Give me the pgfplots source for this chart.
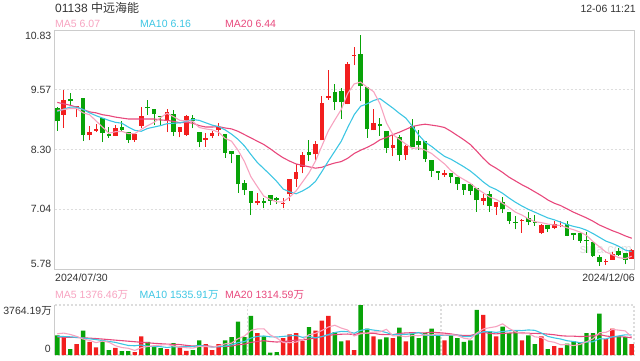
\documentclass[border=0pt]{standalone}
\usepackage{pgfplots}
\usepackage{pgfplotstable}
\pgfplotsset{compat=1.18}
\usepackage{fontspec}
\setmainfont{Liberation Sans}
\newfontfamily\cjk{Noto Sans CJK SC}
\definecolor{cred}{HTML}{F21E1E}
\definecolor{cgreen}{HTML}{08A308}
\definecolor{mafive}{HTML}{F7A3C0}
\definecolor{maten}{HTML}{3DC6E3}
\definecolor{matwenty}{HTML}{E8487C}
\definecolor{framec}{HTML}{CCCCCC}
\definecolor{gridc}{HTML}{DDDDDD}
\definecolor{txt}{HTML}{333333}
\newcommand{\fs}{\fontsize{10.5}{12}\selectfont}

% price candles: x open high low close
\pgfplotstableread{
x o h l c
2 9.04 9.57 8.76 9.36
4 9.20 9.23 8.99 9.22
6 8.61 8.80 8.50 8.68
7 8.70 8.84 8.67 8.73
10 8.59 8.83 8.59 8.76
13 8.51 8.66 8.47 8.64
14 8.80 9.20 8.75 9.02
18 8.90 9.17 8.67 9.10
20 8.67 8.79 8.56 8.79
21 8.62 9.04 8.60 9.02
24 8.51 8.66 8.36 8.54
25 8.59 8.69 8.54 8.66
26 8.71 8.87 8.59 8.78
32 7.17 7.38 7.13 7.21
36 7.16 7.27 7.06 7.18
37 7.36 7.69 7.22 7.68
38 7.68 8.00 7.52 7.82
39 7.93 8.25 7.80 8.18
41 8.20 8.48 8.06 8.43
42 8.50 9.44 8.50 9.29
43 9.40 9.99 9.36 9.43
46 9.26 10.16 9.26 10.11
47 10.28 10.47 10.09 10.31
50 8.71 9.17 8.71 8.87
53 8.33 8.65 8.16 8.39
55 8.18 8.41 8.09 8.37
61 7.76 7.87 7.73 7.80
67 7.22 7.36 7.13 7.27
69 7.09 7.20 6.92 7.20
73 6.80 6.83 6.55 6.82
76 6.54 6.73 6.52 6.70
78 6.65 6.80 6.62 6.73
79 6.69 6.80 6.66 6.72
86 5.93 5.99 5.87 5.95
87 5.98 6.14 5.98 6.09
90 6.00 6.21 5.99 6.18
}\redc

\pgfplotstableread{
x o h l c
1 9.18 9.20 8.70 8.90
3 9.38 9.50 9.25 9.32
5 9.39 9.39 8.48 8.61
8 8.97 8.97 8.46 8.65
9 8.63 8.78 8.55 8.58
11 8.79 8.91 8.67 8.71
12 8.68 8.68 8.44 8.51
15 9.20 9.36 9.04 9.18
16 9.17 9.17 8.83 9.05
17 9.02 9.02 8.80 8.99
19 9.05 9.13 8.59 8.67
22 8.97 9.04 8.75 8.90
23 8.68 8.68 8.35 8.46
27 8.64 8.64 8.13 8.24
28 8.28 8.28 8.01 8.20
29 8.18 8.18 7.39 7.57
30 7.59 7.66 7.34 7.44
31 7.42 7.42 6.92 7.18
33 7.21 7.29 7.06 7.18
34 7.34 7.34 7.13 7.22
35 7.27 7.31 7.15 7.23
40 8.26 8.50 8.06 8.18
44 9.52 9.69 9.13 9.31
45 9.55 9.60 8.96 9.30
48 10.32 10.72 9.32 9.64
49 9.62 9.62 8.55 8.73
51 8.84 8.97 8.59 8.80
52 8.70 8.70 8.23 8.33
54 8.56 8.61 8.06 8.19
56 8.80 8.96 8.35 8.35
57 8.49 8.72 8.30 8.41
58 8.49 8.49 8.04 8.11
59 8.09 8.09 7.73 7.85
60 7.85 7.85 7.66 7.81
62 7.80 7.80 7.59 7.72
63 7.73 7.73 7.45 7.57
64 7.57 7.57 7.35 7.45
65 7.57 7.57 7.34 7.43
66 7.50 7.50 6.99 7.23
68 7.36 7.43 6.99 7.11
70 7.20 7.31 6.96 7.04
71 6.99 6.99 6.73 6.80
72 6.78 6.90 6.62 6.76
74 6.85 6.98 6.70 6.77
75 6.78 6.93 6.69 6.75
77 6.70 6.70 6.56 6.62
80 6.74 6.80 6.47 6.48
81 6.55 6.55 6.40 6.49
82 6.55 6.55 6.33 6.38
83 6.40 6.57 6.12 6.38
84 6.36 6.36 6.04 6.06
85 6.04 6.08 5.85 5.93
88 6.16 6.22 6.05 6.08
89 6.11 6.11 5.88 5.97
}\greenc

% price moving averages: x ma5 ma10 ma20
\pgfplotstableread{
x a b d
1 9.13 9.11 9.30
2 9.15 9.16 9.27
3 9.17 9.20 9.24
4 9.17 9.20 9.20
5 9.08 9.15 9.15
6 9.04 9.08 9.10
7 8.91 9.02 9.08
8 8.78 8.97 9.04
9 8.65 8.92 9.02
10 8.68 8.88 8.99
11 8.69 8.86 8.97
12 8.64 8.78 8.95
13 8.64 8.71 8.95
14 8.73 8.69 8.95
15 8.81 8.75 8.95
16 8.88 8.78 8.95
17 8.98 8.81 8.93
18 9.07 8.85 8.92
19 9.00 8.86 8.90
20 8.92 8.87 8.87
21 8.91 8.90 8.88
22 8.90 8.94 8.86
23 8.77 8.92 8.81
24 8.74 8.87 8.78
25 8.72 8.82 8.78
26 8.67 8.79 8.79
27 8.54 8.72 8.76
28 8.48 8.63 8.74
29 8.29 8.52 8.69
30 8.05 8.38 8.62
31 7.73 8.20 8.55
32 7.52 8.03 8.48
33 7.32 7.90 8.41
34 7.25 7.77 8.32
35 7.20 7.63 8.22
36 7.20 7.47 8.13
37 7.30 7.41 8.06
38 7.43 7.37 8.00
39 7.62 7.43 7.97
40 7.81 7.51 7.94
41 8.06 7.63 7.91
42 8.38 7.84 7.93
43 8.70 8.06 7.98
44 8.93 8.27 8.02
45 9.15 8.48 8.05
46 9.49 8.77 8.12
47 9.69 9.04 8.22
48 9.73 9.22 8.29
49 9.62 9.27 8.35
50 9.53 9.34 8.42
51 9.27 9.38 8.51
52 8.87 9.28 8.56
53 8.62 9.18 8.62
54 8.52 9.07 8.67
55 8.42 8.97 8.73
56 8.33 8.80 8.79
57 8.34 8.61 8.82
58 8.29 8.46 8.84
59 8.22 8.37 8.82
60 8.11 8.26 8.80
61 8.00 8.16 8.77
62 7.86 8.10 8.69
63 7.75 8.02 8.60
64 7.67 7.94 8.51
65 7.59 7.85 8.41
66 7.48 7.74 8.27
67 7.39 7.62 8.12
68 7.30 7.52 7.99
69 7.25 7.46 7.91
70 7.17 7.38 7.82
71 7.08 7.28 7.72
72 6.98 7.19 7.64
73 6.92 7.11 7.56
74 6.84 7.04 7.49
75 6.78 6.98 7.41
76 6.76 6.92 7.33
77 6.73 6.86 7.24
78 6.71 6.82 7.17
79 6.70 6.77 7.12
80 6.65 6.72 7.05
81 6.61 6.68 6.98
82 6.56 6.65 6.92
83 6.49 6.60 6.86
84 6.36 6.53 6.79
85 6.25 6.45 6.71
86 6.14 6.37 6.65
87 6.08 6.32 6.59
88 6.02 6.26 6.54
89 6.00 6.18 6.48
90 6.05 6.15 6.43
}\pma

% volume (10k shares)
\pgfplotstableread{
x v
2 1427
4 812
6 984
7 566
10 541
13 221
14 1402
18 443
20 566
21 320
24 812
25 369
26 812
32 1648
36 1279
37 1550
38 1648
39 1058
41 1845
42 2583
43 2952
46 1107
47 369
50 1402
53 1279
55 1033
61 1107
67 3026
69 1402
73 1107
76 1402
78 664
79 541
86 1205
87 1993
90 812
}\redv

\pgfplotstableread{
x v
1 1476
3 443
5 1845
8 1033
9 369
11 295
12 295
15 984
16 615
17 517
19 886
22 369
23 1107
27 1107
28 1353
29 2509
30 1353
31 2952
33 1402
34 172
35 221
40 2091
44 1722
45 1033
48 3764
49 1993
51 1181
52 1328
54 2067
56 1599
57 1279
58 1648
59 1993
60 1476
62 1476
63 1279
64 984
65 1107
66 3395
68 1771
70 2140
71 1648
72 1796
74 1476
75 812
77 443
80 861
81 1033
82 910
83 1648
84 1648
85 3124
88 1402
89 1353
}\greenv

% volume moving averages: x ma5 ma10 ma20
\pgfplotstableread{
x a b d
1 1599 1400 1350
2 1648 1390 1340
3 1550 1370 1330
4 1402 1330 1320
5 1201 1280 1300
6 1102 1220 1270
7 930 1160 1240
8 1048 1090 1200
9 959 1020 1160
10 699 950 1120
11 561 832 1080
12 507 718 1040
13 344 696 1000
14 551 755 960
15 639 669 920
16 703 632 880
17 748 627 850
18 792 568 820
19 689 620 800
20 605 622 786
21 546 625 728
22 517 632 675
23 650 721 709
24 635 662 709
25 595 600 635
26 694 620 626
27 841 679 653
28 891 770 669
29 1230 932 776
30 1427 1011 817
31 1855 1274 950
32 1963 1402 1017
33 1973 1432 1076
34 1505 1368 1015
35 1279 1353 977
36 944 1400 1010
37 925 1444 1062
38 974 1473 1122
39 1151 1328 1130
40 1525 1402 1207
41 1638 1291 1283
42 1845 1385 1394
43 2106 1540 1486
44 2239 1695 1531
45 2027 1776 1565
46 1879 1759 1579
47 1437 1641 1542
48 1599 1852 1663
49 1653 1946 1637
50 1727 1877 1640
51 1742 1811 1551
52 1934 1685 1535
53 1437 1518 1529
54 1451 1552 1624
55 1378 1552 1664
56 1461 1602 1680
57 1451 1693 1667
58 1525 1481 1667
59 1510 1481 1713
60 1599 1488 1683
61 1501 1481 1646
62 1540 1496 1590
63 1466 1496 1507
64 1264 1387 1470
65 1191 1395 1474
66 1648 1574 1588
67 1958 1749 1721
68 2057 1761 1621
69 2140 1702 1592
70 2347 1769 1629
71 1997 1823 1652
72 1751 1855 1675
73 1619 1838 1667
74 1633 1887 1637
75 1368 1857 1626
76 1319 1658 1616
77 1048 1400 1574
78 959 1289 1525
79 772 1203 1453
80 782 1075 1422
81 708 1014 1418
82 802 925 1390
83 999 979 1408
84 1220 996 1442
85 1673 1227 1542
86 1707 1208 1433
87 1924 1363 1381
88 1874 1437 1363
89 1815 1518 1360
90 1353 1513 1294
}\vma

\begin{document}
\begin{tikzpicture}
\useasboundingbox (0pt,0pt) rectangle (640pt,-360pt);
% texts
\node[anchor=west, inner sep=0pt, text=txt, font=\fontsize{12}{14}\selectfont] at (55pt,-8pt) {01138 {\cjk 中远海能}};
\node[anchor=east, inner sep=0pt, text=txt, font=\fs] at (636pt,-8.5pt) {12-06 11:21};
\node[anchor=west, inner sep=0pt, text=mafive, font=\fs] at (55pt,-23.7pt) {MA5 6.07};
\node[anchor=west, inner sep=0pt, text=maten, font=\fs] at (140pt,-23.7pt) {MA10 6.16};
\node[anchor=west, inner sep=0pt, text=matwenty, font=\fs] at (225pt,-23.7pt) {MA20 6.44};
\node[anchor=north east, inner sep=0pt, text=txt, font=\fs] at (51.5pt,-31.5pt) {10.83};
\node[anchor=south east, inner sep=0pt, text=txt, font=\fs] at (51.5pt,-267.5pt) {5.78};
\node[anchor=west, inner sep=0pt, text=txt, font=\fs] at (55pt,-277.5pt) {2024/07/30};
\node[anchor=east, inner sep=0pt, text=txt, font=\fs] at (635pt,-277.5pt) {2024/12/06};
\node[anchor=west, inner sep=0pt, text=mafive, font=\fs] at (55pt,-295pt) {MA5 1376.46{\cjk 万}};
\node[anchor=west, inner sep=0pt, text=maten, font=\fs] at (139.5pt,-295pt) {MA10 1535.91{\cjk 万}};
\node[anchor=west, inner sep=0pt, text=matwenty, font=\fs] at (225pt,-295pt) {MA20 1314.59{\cjk 万}};
\node[anchor=north east, inner sep=0pt, text=txt, font=\fs] at (52pt,-306.5pt) {3764.19{\cjk 万}};
\node[anchor=south east, inner sep=0pt, text=txt, font=\fs] at (51pt,-353pt) {0};
\node[anchor=center, inner sep=0pt, text=black!12, font=\fontsize{13}{15}\selectfont] at (606pt,-249pt) {sina.com};

% price panel
\begin{axis}[
  at={(54.5pt,-30pt)}, anchor=north west, scale only axis,
  width=579.5pt, height=239pt,
  xmin=0.566, xmax=90.36, ymin=5.78, ymax=10.83,
  axis line style={draw=framec, line width=0.9pt},
  xtick=\empty,
  ytick={7.04,8.30,9.57}, yticklabels={7.04,8.30,9.57},
  ymajorgrids,
  grid style={draw=gridc, line width=1.2pt, dash pattern=on 2pt off 2pt},
  major tick length=0pt,
  yticklabel style={font=\fs, text=txt, inner sep=0pt, xshift=-3pt},
  clip=false,
]
\addplot[draw=none, no marks, forget plot,
  error bars/.cd, y dir=plus, y explicit, error mark=none,
  error bar style={draw=cred, line width=1pt}]
  table[x=x, y=l, y error plus expr=\thisrow{h}-\thisrow{l}] \redc;
\addplot[draw=none, no marks, forget plot,
  error bars/.cd, y dir=plus, y explicit, error mark=none,
  error bar style={draw=cred, line width=4.6pt, line cap=butt}]
  table[x=x, y=o, y error plus expr=\thisrow{c}-\thisrow{o}] \redc;
\addplot[draw=none, no marks, forget plot,
  error bars/.cd, y dir=plus, y explicit, error mark=none,
  error bar style={draw=cgreen, line width=1pt}]
  table[x=x, y=l, y error plus expr=\thisrow{h}-\thisrow{l}] \greenc;
\addplot[draw=none, no marks, forget plot,
  error bars/.cd, y dir=plus, y explicit, error mark=none,
  error bar style={draw=cgreen, line width=4.6pt, line cap=butt}]
  table[x=x, y=c, y error plus expr=\thisrow{o}-\thisrow{c}] \greenc;
\addplot[matwenty, line width=1.1pt, no marks] table[x=x, y=d] \pma;
\addplot[maten, line width=1.1pt, no marks] table[x=x, y=b] \pma;
\addplot[mafive, line width=1.1pt, no marks] table[x=x, y=a] \pma;
\end{axis}

% volume panel
\begin{axis}[
  at={(54.5pt,-305pt)}, anchor=north west, scale only axis,
  width=579.5pt, height=50pt,
  xmin=0.566, xmax=90.36, ymin=0, ymax=3764.19,
  axis line style={draw=none},
  xtick={30.5,60.45}, xticklabels={,},
  ytick=\empty,
  xmajorgrids,
  grid style={draw=gridc, line width=1.2pt, dash pattern=on 2pt off 2pt},
  major tick length=0pt,
  clip=false,
]
\draw[gridc, line width=1.2pt, dash pattern=on 2pt off 2pt] (rel axis cs:0,1) -- (rel axis cs:1,1) -- (rel axis cs:1,0) -- (rel axis cs:0,0);
\draw[framec, line width=0.9pt] (rel axis cs:0,0) -- (rel axis cs:0,1);
\addplot[ybar, bar width=4.4pt, bar shift=0pt, fill=cred, draw=none] table[x=x, y=v] \redv;
\addplot[ybar, bar width=4.4pt, bar shift=0pt, fill=cgreen, draw=none] table[x=x, y=v] \greenv;
\addplot[matwenty, line width=1.1pt, no marks] table[x=x, y=d] \vma;
\addplot[maten, line width=1.1pt, no marks] table[x=x, y=b] \vma;
\addplot[mafive, line width=1.1pt, no marks] table[x=x, y=a] \vma;
\end{axis}
\end{tikzpicture}
\end{document}
